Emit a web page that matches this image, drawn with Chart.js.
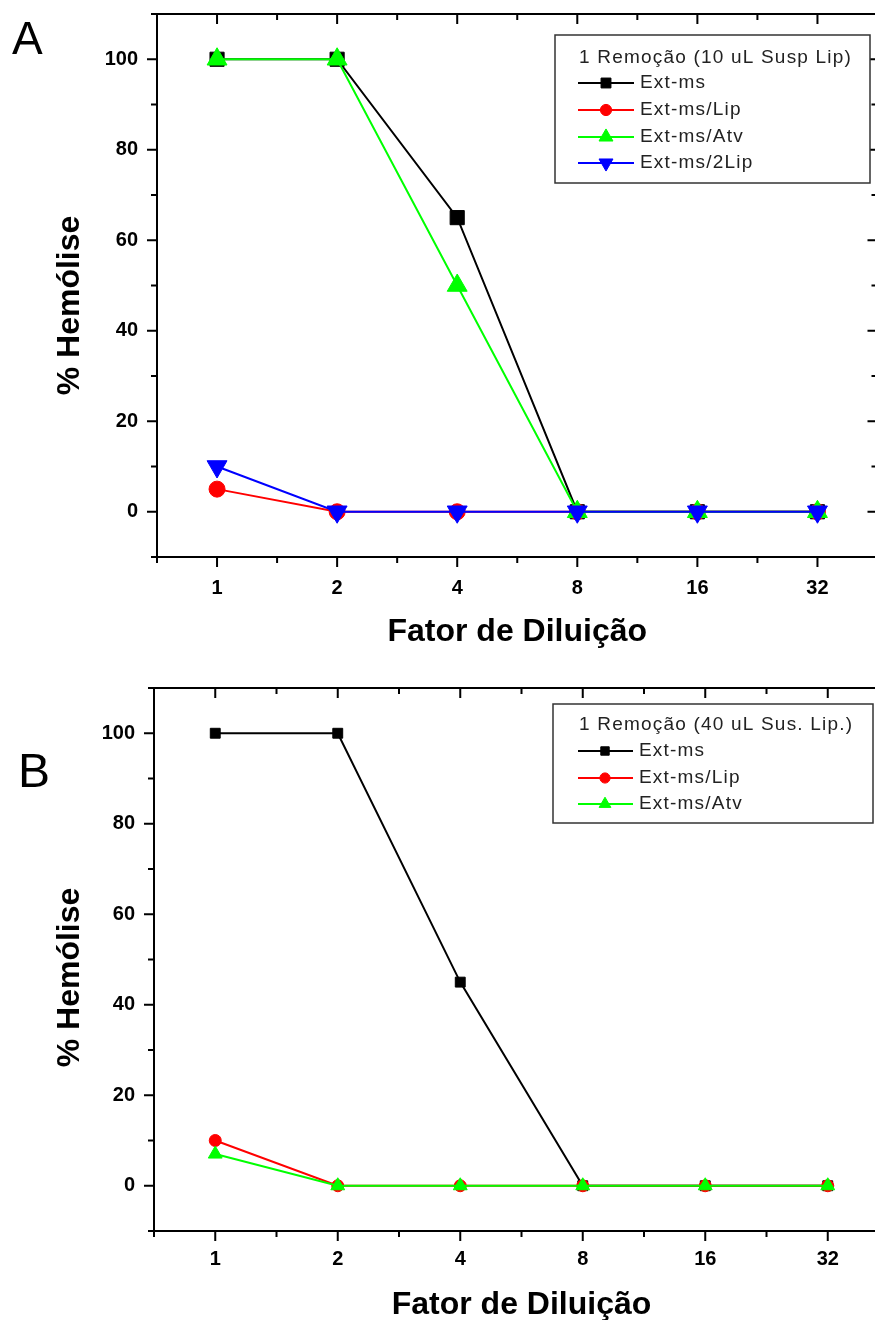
<!DOCTYPE html>
<html>
<head>
<meta charset="utf-8">
<script src="https://cdn.jsdelivr.net/npm/chart.js@4.4.1/dist/chart.umd.min.js"></script>
<style>
  html, body { margin: 0; padding: 0; background: #fff; overflow: hidden; width: 875px; height: 1320px; position: relative; }
  canvas { position: absolute; left: 0; }
  #chartA { top: 0; }
  #chartB { top: 660px; }
</style>
</head>
<body>
<canvas id="chartA" width="890" height="660"></canvas>
<canvas id="chartB" width="900" height="660"></canvas>
<script>
const diluicoes = ['1', '2', '4', '8', '16', '32'];
const yTicks = [0, 20, 40, 60, 80, 100];

// A: 1 remoção, 10 uL suspensão lipossomal
const extMsA = [100, 100, 65, 0, 0, 0];
const extMsLipA = [5, 0, 0, 0, 0, 0];
const extMsAtvA = [100, 100, 50, 0, 0, 0];
const extMs2LipA = [10, 0, 0, 0, 0, 0];

// B: 1 remoção, 40 uL suspensão lipossomal
const extMsB = [100, 100, 45, 0, 0, 0];
const extMsLipB = [10, 0, 0, 0, 0, 0];
const extMsAtvB = [7, 0, 0, 0, 0, 0];

const FONTE = "'Liberation Sans', Arial, sans-serif";

function serie(label, data, cor, estilo, raio, ordem, rot) {
  return {
    label: label,
    data: data,
    borderColor: cor,
    backgroundColor: cor,
    borderWidth: 2,
    pointStyle: estilo,
    rotation: rot || 0,
    pointRadius: raio,
    pointHoverRadius: raio,
    pointBorderWidth: 1,
    pointBorderColor: cor,
    pointBackgroundColor: cor,
    order: ordem,
    tension: 0,
    fill: false
  };
}

// moldura estilo Origin: eixos nos 4 lados, ticks maiores/menores, legenda em caixa, titulos
const moldura = {
  id: 'moldura',
  afterDraw(chart, args, o) {
    const { ctx, chartArea: a, scales: { x, y } } = chart;
    ctx.save();
    ctx.strokeStyle = '#000';
    ctx.lineWidth = 2;
    ctx.strokeRect(a.left, a.top, a.right - a.left, a.bottom - a.top);

    ctx.beginPath();
    for (let i = -0.5; i <= diluicoes.length - 0.5; i += 0.5) {
      const px = x.getPixelForValue(i);
      const len = Number.isInteger(i) ? 10 : 6;
      ctx.moveTo(px, a.bottom); ctx.lineTo(px, a.bottom + len);
      ctx.moveTo(px, a.top); ctx.lineTo(px, a.top + len);
    }
    for (let v = -10; v <= 110; v += 10) {
      const py = y.getPixelForValue(v);
      const len = yTicks.includes(v) ? 10 : 6;
      ctx.moveTo(a.left, py); ctx.lineTo(a.left - len, py);
      ctx.moveTo(a.right, py); ctx.lineTo(a.right - len, py);
    }
    ctx.stroke();

    // letra do painel
    ctx.fillStyle = '#000';
    ctx.font = o.letraTam + 'px ' + FONTE;
    ctx.textAlign = 'left';
    ctx.textBaseline = 'alphabetic';
    ctx.fillText(o.letra, o.letraX, o.letraY);

    // titulos dos eixos
    ctx.font = 'bold 32px ' + FONTE;
    ctx.textAlign = 'center';
    ctx.textBaseline = 'middle';
    ctx.fillText('Fator de Diluição', (a.left + a.right) / 2, o.tituloX);
    ctx.save();
    ctx.translate(o.tituloYx, (a.top + a.bottom) / 2 + o.tituloYdy);
    ctx.rotate(-Math.PI / 2);
    ctx.fillText('% Hemólise', 0, 0);
    ctx.restore();

    // legenda
    const L = o.legenda;
    ctx.fillStyle = '#fff';
    ctx.fillRect(L.x, L.y, L.w, L.h);
    ctx.lineWidth = 1.5;
    ctx.strokeStyle = '#333';
    ctx.strokeRect(L.x, L.y, L.w, L.h);
    ctx.font = '19px ' + FONTE;
    ctx.letterSpacing = '1.2px';
    ctx.textAlign = 'left';
    ctx.fillStyle = '#222';
    ctx.fillText(o.legendaTitulo, L.tx, L.ty);
    chart.data.datasets.forEach((ds, i) => {
      const ry = L.linhas[i];
      ctx.strokeStyle = ds.borderColor;
      ctx.lineWidth = 2;
      ctx.beginPath();
      ctx.moveTo(L.l0, ry); ctx.lineTo(L.l1, ry);
      ctx.stroke();
      ctx.fillStyle = ds.borderColor;
      ctx.lineWidth = 1;
      Chart.helpers.drawPoint(ctx, {
        pointStyle: ds.pointStyle,
        rotation: ds.rotation,
        radius: ds.pointRadius * L.escala,
        borderWidth: 1
      }, L.m, ry);
      ctx.fillStyle = '#222';
      ctx.fillText(ds.label, L.texto, ry);
    });
    ctx.restore();
  }
};

function montar(id, datasets, p, opts) {
  const el = document.getElementById(id);
  return new Chart(el, {
    type: 'line',
    data: { labels: diluicoes, datasets: datasets },
    options: {
      responsive: false,
      animation: false,
      devicePixelRatio: 1,
      layout: { padding: { left: 0, top: p.top, right: el.width - p.right, bottom: 0 } },
      plugins: {
        legend: { display: false },
        tooltip: { enabled: false },
        moldura: opts
      },
      scales: {
        x: {
          type: 'category',
          offset: true,
          grid: { display: false, drawTicks: false },
          border: { display: false },
          ticks: { color: '#000', font: { family: FONTE, size: 20, weight: 'bold' }, padding: p.xPad, autoSkip: false, maxRotation: 0 },
          afterFit: s => {
            s.height = el.height - p.bottom;
            s.paddingLeft = 0;
            s.paddingRight = 0;
          }
        },
        y: {
          min: -10,
          max: 110,
          grid: { display: false, drawTicks: false },
          border: { display: false },
          ticks: {
            stepSize: 10,
            color: '#000',
            font: { family: FONTE, size: 20, weight: 'bold' },
            padding: 19,
            callback: v => yTicks.includes(Math.round(v)) ? Math.round(v) : ''
          },
          afterFit: s => {
            s.width = p.left;
            s.paddingTop = 0;
            s.paddingBottom = 0;
          }
        }
      }
    },
    plugins: [moldura]
  });
}

montar('chartA', [
  serie('Ext-ms', extMsA, '#000000', 'rect', 10, 3),
  serie('Ext-ms/Lip', extMsLipA, '#ff0000', 'circle', 8, 2),
  serie('Ext-ms/Atv', extMsAtvA, '#00ff00', 'triangle', 11.5, 1),
  serie('Ext-ms/2Lip', extMs2LipA, '#0000ff', 'triangle', 11.5, 0, 180)
], { left: 157, top: 14, right: 881, bottom: 557, xPad: 19 }, {
  letra: 'A', letraX: 12, letraY: 54, letraTam: 46,
  tituloX: 632, tituloYx: 70, tituloYdy: 20,
  legendaTitulo: '1 Remoção (10 uL Susp Lip)',
  legenda: { x: 555, y: 35, w: 315, h: 148, tx: 579, ty: 58, linhas: [83, 110, 137, 163], l0: 578, l1: 634, m: 606, texto: 640, escala: 0.7 }
});

montar('chartB', [
  serie('Ext-ms', extMsB, '#000000', 'rect', 7, 2),
  serie('Ext-ms/Lip', extMsLipB, '#ff0000', 'circle', 6, 1),
  serie('Ext-ms/Atv', extMsAtvB, '#00ff00', 'triangle', 8, 0)
], { left: 154, top: 28, right: 889, bottom: 571, xPad: 16 }, {
  letra: 'B', letraX: 18, letraY: 127, letraTam: 48,
  tituloX: 645, tituloYx: 70, tituloYdy: 18,
  legendaTitulo: '1 Remoção (40 uL Sus. Lip.)',
  legenda: { x: 553, y: 44, w: 320, h: 119, tx: 579, ty: 65, linhas: [91, 118, 144], l0: 578, l1: 633, m: 605, texto: 639, escala: 0.85 }
});
</script>
</body>
</html>
